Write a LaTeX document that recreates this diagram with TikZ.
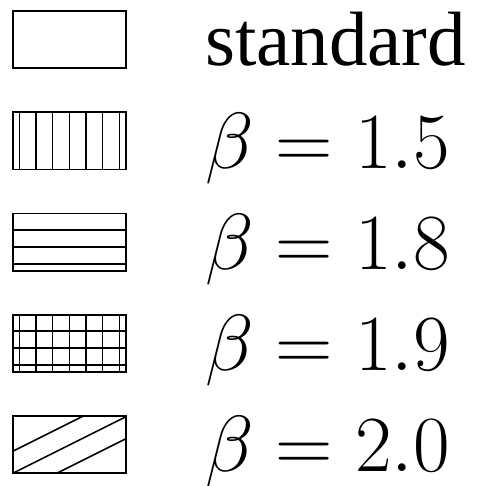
\RequirePackage{fix-cm}
\documentclass[tikz,border=0pt]{standalone}
\usepackage{fontspec}
\setmainfont{Liberation Serif}
\begin{document}
\begin{tikzpicture}[x=1pt,y=-1pt,
  box/.style={draw, line width=1.7pt, minimum width=113pt, minimum height=57.3pt, inner sep=0pt, outer sep=0pt},
  hl/.style={line width=1.6pt},
  vlines/.code={\foreach \k in {0,...,6}{\draw[hl] ([xshift={6.6pt+\k*16.67pt}]path picture bounding box.north west) -- ([xshift={6.6pt+\k*16.67pt}]path picture bounding box.south west);}},
  hlines/.code={\foreach \k in {0,...,2}{\draw[hl] ([yshift={7pt+\k*16.9pt}]path picture bounding box.south west) -- ([yshift={7pt+\k*16.9pt}]path picture bounding box.south east);}},
  vhatch/.style={path picture={\tikzset{vlines}}},
  hhatch/.style={path picture={\tikzset{hlines}}},
  grid hatch/.style={path picture={\tikzset{vlines,hlines}}},
  dhatch/.style={path picture={\foreach \o in {-22,0,22}{\draw[hl] ([yshift={\o*1pt}]path picture bounding box.south west) -- ([xshift=113pt,yshift={\o*1pt+56.5pt}]path picture bounding box.south west);}}},
  lbl/.style={anchor=base west, inner sep=0pt, font=\fontsize{77}{80}\selectfont},
  mlbl/.style={anchor=base west, inner sep=0pt, font=\fontsize{79.6}{82}\selectfont}]
\useasboundingbox (0,0) rectangle (478,486);
\node[box] (b1) at (69.2, 39.65) {};
\node[box, vhatch] (b2) at (69.2, 140.9) {};
\node[box, hhatch] (b3) at (69.2, 242.15) {};
\node[box, grid hatch] (b4) at (69.2, 343.4) {};
\node[box, dhatch] (b5) at (69.2, 444.65) {};
\node[lbl] (t1) at (205, 66) {standard};
\node[mlbl] (t2) at (205, 168) {$\beta=1.5$};
\node[mlbl] (t3) at (205, 269.2) {$\beta=1.8$};
\node[mlbl] (t4) at (205, 370.4) {$\beta=1.9$};
\node[mlbl] (t5) at (205, 471.6) {$\beta=2.0$};
\end{tikzpicture}
\end{document}
